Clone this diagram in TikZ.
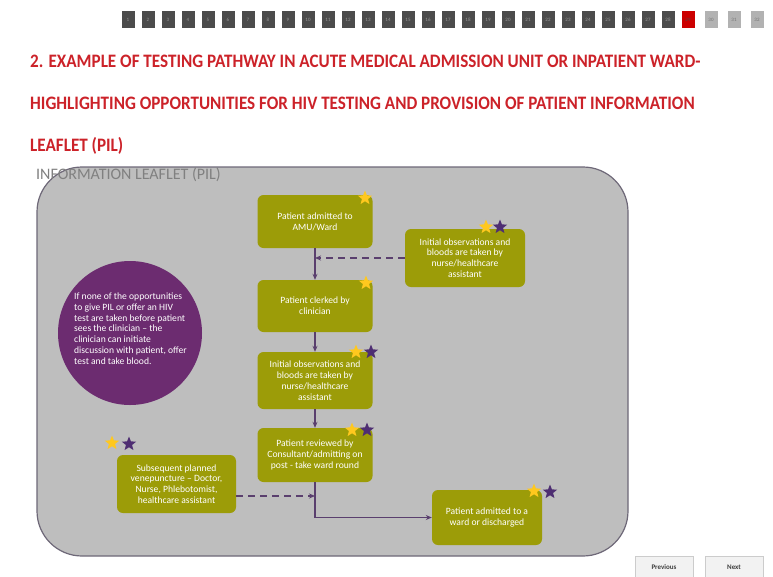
\documentclass[tikz,border=0pt]{standalone}
\usepackage{fontspec}
\setmainfont{Carlito}
\newfontfamily\titlefont[FakeStretch=0.9]{Carlito}
\newfontfamily\subfont{Carlito}
\usetikzlibrary{shapes.geometric,arrows.meta}
\definecolor{olive}{HTML}{9C9C08}
\definecolor{plum}{HTML}{6C2C70}
\definecolor{linecol}{HTML}{5A3F6E}
\definecolor{titlered}{HTML}{CC2229}
\definecolor{panel}{HTML}{BEBEBE}
\definecolor{panelborder}{HTML}{6E6878}
\definecolor{staryellow}{HTML}{FFC81E}
\definecolor{starpurple}{HTML}{4E2E72}
\begin{document}
\begin{tikzpicture}[x=1pt,y=-1pt,
  stepbox/.style={draw=none,fill=olive,rounded corners=6pt,text=white,align=center,
    font=\fontsize{9.6}{10.8}\selectfont,inner sep=2pt},
  circ/.style={circle,fill=plum,draw=none,text=white,minimum size=144pt,inner sep=0pt},
  ystar/.style={star,star points=5,star point ratio=2.3,fill=staryellow,draw=none,minimum size=15pt,inner sep=0pt},
  pstar/.style={star,star points=5,star point ratio=2.3,fill=starpurple,draw=none,minimum size=15pt,inner sep=0pt},
  flow/.style={draw=linecol,line width=1.3pt,-{Stealth[length=6pt,width=5pt]}},
  dflow/.style={draw=linecol,line width=1.6pt,dash pattern=on 7pt off 5pt,-{Stealth[length=6pt,width=5pt]}},
  titletext/.style={anchor=base west,inner sep=0pt,text=titlered,font=\titlefont\bfseries\fontsize{19}{22}\selectfont},
  pg/.style={fill=#1,draw=none,minimum width=13pt,minimum height=17pt,inner sep=0pt,font=\fontsize{5}{6}\selectfont},
  btn/.style={fill=gray!10,draw=gray!40,line width=0.6pt,minimum width=58pt,minimum height=21pt,inner sep=0pt,
    text=black!75,font=\bfseries\fontsize{7}{8}\selectfont}]
\useasboundingbox (0,0) rectangle (773,576);
\fill[white] (0,0) rectangle (773,576);
% page number bar
\foreach \i in {1,...,28}{
  \node[pg={black!70},text=black!40] (p\i) at ({128+(\i-1)*20},19.5) {\i};
}
\node[pg={red!80!black},text=black!70] (p29) at (688,19.5) {29};
\node[pg={black!30},text=black!55] (p30) at (711,19.5) {30};
\node[pg={black!30},text=black!55] (p31) at (734,19.5) {31};
\node[pg={black!30},text=black!55] (p32) at (757,19.5) {32};
% title
\node[titletext] (t1) at (30,67) {2. EXAMPLE OF TESTING PATHWAY IN ACUTE MEDICAL ADMISSION UNIT OR INPATIENT WARD-};
\node[titletext] (t2) at (30,109) {HIGHLIGHTING OPPORTUNITIES FOR HIV TESTING AND PROVISION OF PATIENT INFORMATION};
\node[titletext] (t3) at (30,151) {LEAFLET (PIL)};
% panel
\draw[fill=panel,draw=panelborder,line width=1.2pt,rounded corners=45pt] (37,167) rectangle (628,556);
\node[anchor=base west,inner sep=0pt,text=black!50,font=\subfont\fontsize{16}{18}\selectfont] (sub) at (36,179) {INFORMATION LEAFLET (PIL)};
% boxes
\node[stepbox,minimum width=115pt,minimum height=53pt] (b1) at (315,221.5) {Patient admitted to\\AMU/Ward};
\node[stepbox,minimum width=120pt,minimum height=58pt] (b2) at (465,258) {Initial observations and\\bloods are taken by\\nurse/healthcare\\assistant};
\node[stepbox,minimum width=115pt,minimum height=52pt] (b3) at (315,306) {Patient clerked by\\clinician};
\node[stepbox,minimum width=115pt,minimum height=57pt] (b4) at (315,380.5) {Initial observations and\\bloods are taken by\\nurse/healthcare\\assistant};
\node[stepbox,minimum width=115pt,minimum height=54pt] (b5) at (315,455) {Patient reviewed by\\Consultant/admitting on\\post - take ward round};
\node[stepbox,minimum width=119pt,minimum height=58pt] (b6) at (176.5,484) {Subsequent planned\\venepuncture -- Doctor,\\Nurse, Phlebotomist,\\healthcare assistant};
\node[stepbox,minimum width=110pt,minimum height=55pt] (b7) at (487,517.5) {Patient admitted to a\\ward or discharged};
\node[circ] (c1) at (130,333) {};
\node[anchor=north west,inner sep=0pt,text=white,align=left,font=\fontsize{9.6}{10.7}\selectfont] (ctext) at (74,293)
  {If none of the opportunities\\to give PIL or offer an HIV\\test are taken before patient\\sees the clinician -- the\\clinician can initiate\\discussion with patient, offer\\test and take blood.};
% connectors
\draw[flow] (b1.south) -- (b3.north);
\draw[flow] (b3.south) -- (b4.north);
\draw[flow] (b4.south) -- (b5.north);
\draw[flow] (b5.south) |- (b7.west);
\draw[dflow] (b2.west) -- (b2.west -| b1.south);
\draw[dflow] ([yshift=-12pt]b6.east) -- ([yshift=-12pt]b6.east -| b5.south);
% stars
\node[ystar] (s1y) at (365,198) {};
\node[ystar] (s2y) at (486,227) {};
\node[pstar] (s2p) at (500,227) {};
\node[ystar] (s3y) at (366,283) {};
\node[ystar] (s4y) at (356,352) {};
\node[pstar] (s4p) at (371,352) {};
\node[ystar] (s5y) at (352,430) {};
\node[pstar] (s5p) at (367,430) {};
\node[ystar] (s6y) at (112,443) {};
\node[pstar] (s6p) at (129,444) {};
\node[ystar] (s7y) at (534,491) {};
\node[pstar] (s7p) at (550,492) {};
% buttons
\node[btn] (prev) at (664,567) {Previous};
\node[btn] (next) at (734,567) {Next};
\end{tikzpicture}
\end{document}
